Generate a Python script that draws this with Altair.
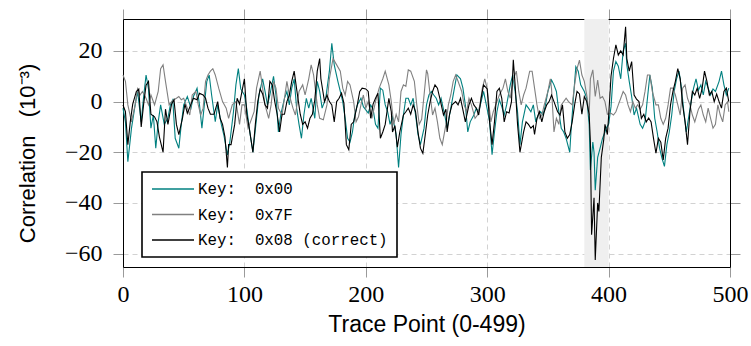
import altair as alt
import pandas as pd

# ---- data (trace point, correlation x10^-3) ----
KEY00 = [(0,-2.6),(2,-8),(4,-23.7),(7,-10.5),(10,-1.3),(12,4),(15,-8),(17,2),(19,10.5),(21,5),(23,-10.5),(25,-5.3),(27,-18.4),(29,-8),(31,-1.3),(34,-9),(37,-6.5),(39,-1.3),(41,0.7),(43,-14.5),(46,-18.4),(48,-9),(50,-1.3),(53,2),(56,-2.6),(58,2),(61,5.3),(63,-1.3),(65,-10.5),(67,-1.3),(69,7.9),(71,10.5),(73,2.6),(76,-7.9),(78,-1.3),(81,-9),(83,-13),(86,-21),(88,-16),(91,-4),(93,6.6),(95,13),(97,5),(100,2.6),
 (102,-3),(104,-10.5),(107,-20),(110,-6.6),(112,2.6),(115,9),(117,4),(119,-1.3),(121,2.6),(124,10),(126,2.6),(128,-12),(130,-5),(133,1.3),(135,4),(137,-1.3),(139,5.3),(141,9),(143,-2.6),(145,-9),(147,-14.5),(149,-5.3),(151,1.3),(153,-2.6),(155,1.3),(158,-6.6),(160,8),(162,4),(164,-2.6),(167,1.3),(170,12),(172,23),(174,14.5),(177,8),(179,4),(181,0),(183,-6.6),(185,-14.5),(187,-16),(189,-12),(191,-5),(193,-1.3),(196,1.3),(198,-2),(200,-3.3),
 (202,-4.5),(204,-1.3),(206,-3),(208,-9),(210,-10.5),(212,5.3),(214,4.5),(216,-1.3),(218,-4),(220,-9),(222,-6),(225,-13),(227,-26),(229,-13),(231,-5.3),(233,1.3),(235,1.3),(237,-1.3),(239,1.3),(241,-5.3),(243,-13),(245,-17),(248,-10.5),(250,-1.3),(252,2.6),(254,4),(256,2.6),(258,1.3),(260,-1.3),(262,1.3),(265,-5.3),(267,-10.5),(269,-5.3),(271,0),(273,5.3),(275,10.5),(278,9),(280,5.3),(282,-1.3),(284,-12),(286,-8),(289,-5.3),(291,-2.6),(293,-4),(295,0),(297,4),(300,-3),
 (302,-8),(304,-21),(306,-12),(308,-4),(310,0.7),(312,-2),(314,-5.3),(316,-1.3),(319,6.6),(321,10.5),(323,4),(325,-4),(327,-17),(329,-8),(332,-1.3),(334,-2.6),(336,-4),(338,-1.3),(340,-8),(342,-5.3),(344,-4),(346,-5.3),(348,-1.3),(350,4),(353,8.5),(355,6.6),(357,4),(359,-4),(361,-10.5),(363,-12),(365,-14.5),(368,-20),(369,-12),(371,1.3),(373,13.8),(375,12),(377,6.6),(380,4),(382,1.3),(384,-9),(385,-27),(387,-16),(388,-20),(389,-35),(391,-22),(393,-18.4),(395,-14.5),(397,-12),(398,-10.5),(400,-9),
 (402,-2),(404,12),(406,15.8),(408,14),(410,9),(412,20),(414,23),(415,14.5),(417,8),(419,2),(421,-5.3),(423,-2.6),(426,-9),(428,-10.5),(430,-8),(432,1.3),(434,10.5),(436,5.3),(438,-6.6),(440,-12),(442,-18.4),(444,-22.4),(446,-25.6),(448,-17),(450,-12),(452,-5.3),(454,4),(456,9),(458,12),(460,5.3),(462,-4),(464,-12),(466,-6),(468,0),(470,5.3),(472,9),(474,4.5),(476,6.6),(478,2.6),(480,8),(482,5.3),(484,2.6),(486,5),(488,4),(491,8),(493,12),(495,6.6),(497,2.6),(499,5.3)]

KEY7F = [(0,10.5),(2,8),(4,-1.3),(7,-8),(10,-1.3),(12,5),(14,2.6),(16,4),(19,1.3),(21,-1.3),(23,2.6),(26,-1.3),(29,4),(31,13),(33,14.5),(35,8),(38,-1.3),(40,0),(42,0.7),(44,1.3),(46,2),(48,0.7),(50,1.3),(53,-2.6),(55,-5.3),(57,2.6),(60,4),(62,-1.3),(64,-5.3),(66,-2.6),(68,8),(70,10.5),(72,12),(74,13),(76,10.5),(79,5),(82,0),(85,-2.6),(87,-6.6),(90,-1.3),(93,0),(96,-9),(98,-1.3),(100,-1.3),
 (103,-10.5),(105,-8),(108,-4),(110,5.3),(113,12),(115,5.3),(117,-1.3),(120,-6.6),(122,-1.3),(124,8),(126,5.3),(128,-2.6),(131,-5.3),(133,1.3),(135,8),(137,2.6),(140,-2.6),(142,-5.3),(145,4),(148,6.6),(150,2.6),(153,9),(155,14.5),(157,10.5),(160,-1.3),(162,-6.6),(165,-7.2),(168,-1.3),(170,9),(173,17),(176,14.5),(179,12),(181,5.3),(183,2.6),(185,8),(187,6.6),(190,0),(192,-8),(194,-6),(196,-1.3),(198,2.6),(200,-2.6),
 (202,0),(205,-6.6),(208,0),(211,5.3),(214,9),(216,12),(219,6.6),(221,0),(223,-9),(225,-5),(227,-8),(229,4),(231,6.6),(233,6),(235,12.5),(237,12),(240,8),(242,-1.3),(244,-9),(246,-7),(248,2.6),(250,12.5),(251,11),(253,2.6),(255,-5.3),(257,-2.6),(259,-8),(261,-14.5),(263,-17),(266,-9),(268,-1.3),(270,2.6),(272,8),(274,10.5),(276,8),(279,4),(281,-1.3),(283,-4),(285,1.3),(287,-1.3),(290,-6.6),(292,-5.3),(294,-1.3),(296,5.3),(298,9),(300,5),
 (303,-8),(305,-4),(307,-1.3),(310,2.6),(313,5.3),(315,9),(317,4),(319,1.3),(321,8),(324,12),(326,4),(328,-1.3),(330,2.6),(332,5.3),(335,12),(337,12),(339,5.3),(341,-1.3),(343,-6.6),(345,-5.3),(347,-1.3),(350,4),(352,9),(353,5),(355,-12),(357,-6.6),(359,-9),(361,-1.3),(363,0),(365,1.3),(367,0),(370,-1.3),(372,6.6),(374,13),(376,16.4),(378,10.5),(380,8),(382,2.6),(384,-5.3),(385,9),(387,12.5),(389,2),(391,8.5),(393,1.3),(395,2),(397,0),(399,-5),
 (402,-4.6),(404,-5.3),(406,-4),(408,-1.3),(410,1.3),(412,4),(414,2.6),(416,-1.3),(418,-4),(420,0),(422,-2.6),(424,-1.3),(426,-3),(428,-1.3),(430,4),(432,10.5),(434,10.5),(436,4),(439,-1.3),(441,-1.3),(443,-6.6),(445,-9),(447,-6.6),(449,-1.3),(451,5.3),(453,5.3),(455,2.6),(457,-1.3),(459,-5.3),(461,5.3),(463,6.6),(465,1.3),(467,-1.3),(469,-5.3),(471,-8),(474,-3),(476,-1.3),(478,-5.3),(480,-8),(482,-2.6),(484,-6.6),(486,-10.5),(488,-9),(490,-1.3),(492,-5.3),(494,-8),(496,-1.3),(498,0),(499,-4)]

KEY08 = [(0,-1.3),(2,-4),(4,-17),(6,-8),(8,-1),(11,4),(13,5),(15,-10),(17,-1),(19,6.5),(21,8),(23,-5),(26,-6),(28,-8),(30,-14),(33,-20),(35,-3),(37,-9),(40,-1),(42,0.7),(44,-9),(46,-13),(49,-6.5),(51,-1),(53,-4.6),(56,-1),(58,1.3),(61,0.7),(63,3.3),(66,2.6),(68,1.3),(70,-2.6),(72,-5),(75,-5),(78,0),(80,-6.6),(82,-9),(84,-14),(86,-26),(87,-17),(89,-17),(92,-9),(94,1.3),(96,-1),(98,4),(100,9),
 (102,-5),(104,-10.5),(107,-20),(109,-9),(111,0),(113,5),(115,3),(117,-1.3),(119,-2.6),(121,8),(123,6.6),(125,0),(127,-5),(129,-12),(131,-5),(133,-5),(135,0),(137,2.6),(139,8),(141,12),(143,5),(146,-5),(148,-9),(150,-8),(152,-10.5),(154,-6.6),(156,-5),(158,0.7),(160,12),(162,17),(163,9),(166,0),(168,2.6),(170,0),(172,-1.3),(174,-8),(176,0),(178,1.3),(180,3.3),(182,-0.7),(184,-17),(186,-19),(188,-9),(190,-8),(193,-1.3),(195,4),(197,5.3),(200,5),
 (202,4),(204,-6.6),(206,-1),(208,1.3),(210,3.3),(212,-14.5),(214,-12),(216,-9),(219,1.3),(221,-4),(222,-12),(224,-9.5),(226,-18),(228,-12),(231,-5.3),(233,-4),(235,-2.6),(237,-5),(239,-1.3),(241,-4),(243,-12),(245,-18.4),(247,-20.4),(249,-13),(251,-5.3),(253,0),(255,4),(257,6.6),(259,5.3),(261,1.3),(264,-5.3),(266,-3),(267,-12),(269,-5),(271,-1.3),(274,0),(276,-1.3),(278,1.3),(280,-3.3),(282,-8),(285,-1.3),(287,1.3),(289,-1.3),(291,-2.6),(293,-5.3),(295,1.3),(297,6.6),(300,5),
 (302,-8),(304,-17),(306,-8),(308,4),(310,5.3),(312,1.3),(314,-8),(316,-4),(318,-4.5),(320,0),(321.5,16.5),(323,6.6),(325,-9),(327,-20),(330,-12),(332,-8),(334,-9),(336,-10.5),(338,-9.5),(339,-13),(341,-6.6),(343,-4),(345,-8),(347,-4),(349,-1.3),(351,0),(353,2.6),(355,0),(358,-4),(360,-5.3),(362,-1.3),(364,-12),(366,-14.5),(368,-13),(370,-8),(372,-1.3),(374,4),(376,3),(378,-5),(380,2),(382,0),(384,-5),(385,-16),(386,-52.6),(388,-38),(389,-62.5),(391,-40),(392,-43.4),(394,-22),(396,-15),(397,-9),(399,-13),(400,-6),
 (402,10),(404,17),(406,22.4),(408,18.4),(410,20),(412,18.4),(414,29.5),(415,17),(417,12),(419,15.8),(421,2.6),(423,1),(425,0),(427,-6.6),(429,-5),(431,-8),(433,-6.5),(435,-8),(437,-14.5),(439,-20.4),(441,-14.5),(443,-16),(445,-23),(447,-14.5),(449,-10.5),(451,-1.3),(453,4),(455,8),(457,13),(459,9),(461,-1.3),(463,-8),(465,-17),(467,-4),(469,4),(471,2.6),(473,5.3),(475,1.3),(477,5),(479,12),(481,8),(483,2.6),(485,4),(487,0),(489,3),(491,0),(493,-2.6),(495,4),(497,5.3),(499,0)]

SERIES = ["Key:\u00a0 0x00", "Key:\u00a0 0x7F", "Key:\u00a0 0x08 (correct)"]
COLORS = ["#008080", "#808080", "#000000"]
X_TICKS = [0, 100, 200, 300, 400, 500]
Y_TICKS = [-60, -40, -20, 0, 20]
BAND_START = [380]
BAND_END = [400]

rows = []
for name, pts in zip(SERIES, [KEY00, KEY7F, KEY08]):
    for t, v in pts:
        rows.append({"t": t, "v": v, "key": name})
df = pd.DataFrame(rows)
band_df = pd.DataFrame({"start": BAND_START, "end": BAND_END})

xscale = alt.Scale(domain=[0, 500], nice=False, zero=False)
yscale = alt.Scale(domain=[-65.3, 32.6], nice=False, zero=False)

SERIF = "Liberation Serif"
SANS = "Liberation Sans"
TICK = "#9a9a9a"
GRID = "#d2d2d2"

x_axis = alt.Axis(values=X_TICKS, format="d", labelFont=SERIF, labelFontSize=24, labelColor="black",
                  labelPadding=5, labelFlush=False, tickSize=10, tickColor=TICK, tickWidth=1,
                  domain=True, domainColor="black", domainWidth=1,
                  grid=True, gridDash=[5, 4], gridColor=GRID, gridWidth=1,
                  title="Trace Point (0-499)", titleFont=SANS, titleFontSize=23, titleFontWeight="normal",
                  titleColor="black", titleX=303.5, titleY=57, titleBaseline="middle", titleAlign="center")
y_axis = alt.Axis(values=Y_TICKS, format="d", labelExpr="replace(datum.label, '-', '\u2212')",
                  labelFont=SERIF, labelFontSize=24, labelColor="black", labelPadding=11,
                  labelFlush=False, tickSize=10, tickColor=TICK, tickWidth=1,
                  domain=True, domainColor="black", domainWidth=1,
                  grid=True, gridDash=[5, 4], gridColor=GRID, gridWidth=1,
                  title="Correlation\u00a0\u00a0\u00a0(10\u207b\u00b3)", titleFont=SANS, titleFontSize=22,
                  titleFontWeight="normal", titleColor="black", titleAngle=270,
                  titleX=-96, titleY=134, titleAlign="center", titleBaseline="middle")
x_top = alt.Axis(orient="top", values=X_TICKS, labels=False, tickSize=10, tickColor=TICK,
                 domain=True, domainColor="black", domainWidth=1, grid=False, title=None)
y_right = alt.Axis(orient="right", values=Y_TICKS, labels=False, tickSize=10, tickColor=TICK,
                   domain=True, domainColor="black", domainWidth=1, grid=False, title=None)

color = alt.Color("key:N", scale=alt.Scale(domain=SERIES, range=COLORS),
                  legend=alt.Legend(orient="none", legendX=19, legendY=153, title=None,
                                    symbolType="M-3,0H3", symbolSize=196, symbolStrokeWidth=1.6,
                                    symbolOffset=14, labelOffset=17,
                                    labelFont="Liberation Mono", labelFontSize=15.8, labelColor="black",
                                    fillColor="white", strokeColor="black",
                                    padding=9, rowPadding=9.5, labelLimit=400))

band = alt.Chart(band_df).mark_rect(color="#efefef").encode(
    x=alt.X("start:Q", scale=xscale, axis=x_axis),
    x2="end:Q",
)

axes_for = [(None, y_axis), (x_top, y_right), (None, None)]
layers = [band]
for name, (xa, ya) in zip(SERIES, axes_for):
    ln = alt.Chart(df).transform_filter(alt.datum.key == name).mark_line(strokeWidth=1.1).encode(
        x=alt.X("t:Q", scale=xscale, axis=xa),
        y=alt.Y("v:Q", scale=yscale, axis=ya),
        color=color,
    )
    layers.append(ln)

chart = alt.layer(*layers).resolve_axis(x="independent", y="independent").properties(
    width=607, height=248,
    autosize=alt.AutoSizeParams(type="none"),
    padding={"left": 123, "top": 19, "right": 21, "bottom": 79},
).configure_view(stroke=None).configure_legend(strokeWidth=1.6)

chart.save("out.html", embed_options={"renderer": "svg", "actions": False})
